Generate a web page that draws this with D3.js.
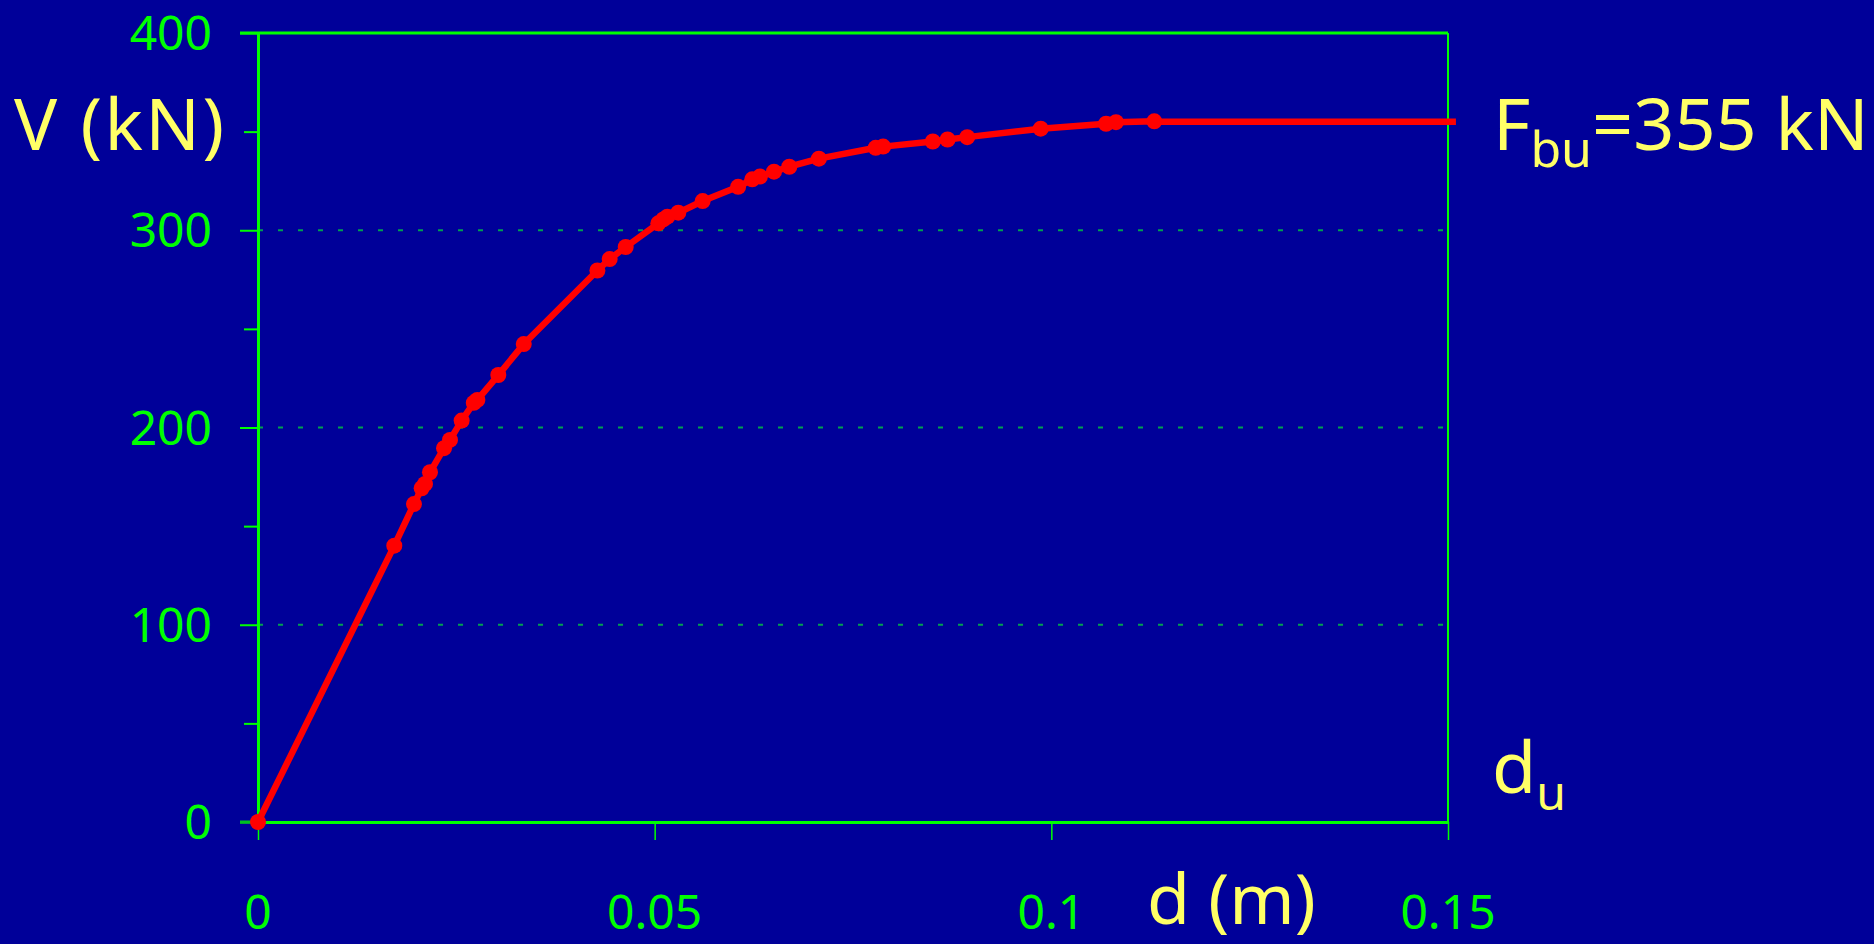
<!DOCTYPE html>
<html>
<head>
<meta charset="utf-8">
<script src="https://cdn.jsdelivr.net/npm/d3@7"></script>
<style>
    body { margin: 0; background: #000099; overflow: hidden; }
    svg { display: block; }
    text { font-family: "Comic Sans MS", "Noto Sans", sans-serif; }
    .tick-label { fill: #00ff00; font-size: 48px; }
    .title { fill: #ffff66; font-size: 72px; }
</style>
</head>
<body>
<div id="chart"></div>
<script>
const width = 1874;
const height = 944;

const margin = { top: 33, right: 426, bottom: 122, left: 258 };

// displacement (m) and shear (kN)
const dispX = [0, 0.01718, 0.01966, 0.02063, 0.02105, 0.02168, 0.02345, 0.0242,
    0.02567, 0.0272, 0.02765, 0.03029, 0.0335, 0.04278, 0.04433, 0.04635,
    0.05046, 0.05109, 0.0516, 0.05298, 0.05605, 0.06052, 0.0623, 0.06327,
    0.06504, 0.06697, 0.0707, 0.07786, 0.0788, 0.08506, 0.08692, 0.0894,
    0.09866, 0.1069, 0.10815, 0.11298];
const shearV = [0, 140.1, 161.2, 169.2, 171.4, 177.3, 189.5, 193.7,
    203.5, 212.5, 214, 226.6, 242.3, 279.6, 285.4, 291.5,
    303.5, 305.5, 306.9, 308.9, 314.8, 322, 325.8, 327.2,
    329.7, 332.2, 336.3, 341.8, 342.4, 345, 346, 347.2,
    351.5, 354, 354.8, 355.2];

// ultimate plateau
const ultimateLoad = 355;
const plateauEnd = 0.151;

const xTicks = [0, 0.05, 0.1, 0.15];
const xTickLabels = ["0", "0.05", "0.1", "0.15"];
const yTicks = [0, 100, 200, 300, 400];
const yMinorTicks = [50, 150, 250, 350];
const gridValues = [100, 200, 300];

const data = dispX.map((d, i) => ({ d: d, v: shearV[i] }));

const svg = d3.select("#chart")
    .append("svg")
    .attr("width", width)
    .attr("height", height);

svg.append("rect")
    .attr("width", width)
    .attr("height", height)
    .attr("fill", "#000099");

const x = d3.scaleLinear()
    .domain([0, 0.15])
    .range([margin.left, width - margin.right]);

const y = d3.scaleLinear()
    .domain([0, 400])
    .range([height - margin.bottom, margin.top]);

// GRID
svg.selectAll(".grid")
    .data(gridValues)
    .enter()
    .append("line")
    .attr("x1", x(0))
    .attr("x2", x(0.15))
    .attr("y1", d => y(d))
    .attr("y2", d => y(d))
    .attr("stroke", "#00a050")
    .attr("stroke-width", 2)
    .attr("stroke-dasharray", "5,15");

// FRAME (top and right)
svg.append("line")
    .attr("x1", x(0) - 18).attr("x2", x(0.15))
    .attr("y1", y(400)).attr("y2", y(400))
    .attr("stroke", "#00ff00").attr("stroke-width", 3);

svg.append("line")
    .attr("x1", x(0.15)).attr("x2", x(0.15))
    .attr("y1", y(400)).attr("y2", y(0))
    .attr("stroke", "#00ff00").attr("stroke-width", 2);

// Y AXIS
const yAxis = svg.append("g")
    .attr("transform", `translate(${x(0)},0)`)
    .call(d3.axisLeft(y).tickValues(yTicks).tickSize(18).tickSizeOuter(0).tickFormat(""));
yAxis.select(".domain").attr("stroke", "#00ff00").attr("stroke-width", 3);
yAxis.selectAll(".tick line").attr("stroke", "#00ff00").attr("stroke-width", 2);

const yMinor = svg.append("g")
    .attr("transform", `translate(${x(0)},0)`)
    .call(d3.axisLeft(y).tickValues(yMinorTicks).tickSize(14).tickSizeOuter(0).tickFormat(""));
yMinor.select(".domain").remove();
yMinor.selectAll(".tick line").attr("stroke", "#00ff00").attr("stroke-width", 2);

svg.selectAll(".ylab")
    .data(yTicks)
    .enter()
    .append("text")
    .attr("class", "tick-label")
    .attr("x", 212)
    .attr("y", d => y(d) + 17)
    .attr("text-anchor", "end")
    .text(d => d);

// X AXIS
const xAxis = svg.append("g")
    .attr("transform", `translate(0,${y(0)})`)
    .call(d3.axisBottom(x).tickValues(xTicks).tickSize(18).tickSizeOuter(0).tickFormat(""));
xAxis.select(".domain").attr("stroke", "#00ff00").attr("stroke-width", 3);
xAxis.selectAll(".tick line").attr("stroke", "#00ff00").attr("stroke-width", 1.5);

svg.append("line")
    .attr("x1", x(0) - 18).attr("x2", x(0))
    .attr("y1", y(0)).attr("y2", y(0))
    .attr("stroke", "#00c020").attr("stroke-width", 3);

svg.selectAll(".xlab")
    .data(xTicks)
    .enter()
    .append("text")
    .attr("class", "tick-label")
    .attr("x", d => x(d))
    .attr("y", 929)
    .attr("text-anchor", "middle")
    .text((d, i) => xTickLabels[i]);

// CURVE
const line = d3.line()
    .x(d => x(d.d))
    .y(d => y(d.v));

const last = data[data.length - 1];
svg.append("path")
    .datum(data.concat([{ d: last.d, v: ultimateLoad }, { d: plateauEnd, v: ultimateLoad }]))
    .attr("d", line)
    .attr("fill", "none")
    .attr("stroke", "#ff0000")
    .attr("stroke-width", 6.5)
    .attr("stroke-linejoin", "round");

svg.selectAll(".point")
    .data(data)
    .enter()
    .append("circle")
    .attr("cx", d => x(d.d))
    .attr("cy", d => y(d.v))
    .attr("r", 8)
    .attr("fill", "#ff0000");

// LABELS
svg.append("text")
    .attr("class", "title")
    .attr("x", 14)
    .attr("y", 150)
    .attr("textLength", 210)
    .text("V (kN)");

svg.append("text")
    .attr("class", "title")
    .attr("x", 1147)
    .attr("y", 924)
    .style("font-size", "70px")
    .text("d (m)");

const fbu = svg.append("text")
    .attr("class", "title")
    .attr("x", 1493)
    .attr("y", 150);
fbu.append("tspan").text("F");
fbu.append("tspan").attr("dy", 17).style("font-size", "50px").text("bu");
fbu.append("tspan").attr("dy", -17).text("=355 kN");

const du = svg.append("text")
    .attr("class", "title")
    .attr("x", 1492)
    .attr("y", 793);
du.append("tspan").text("d");
du.append("tspan").attr("dy", 17).style("font-size", "48px").text("u");
</script>
</body>
</html>
